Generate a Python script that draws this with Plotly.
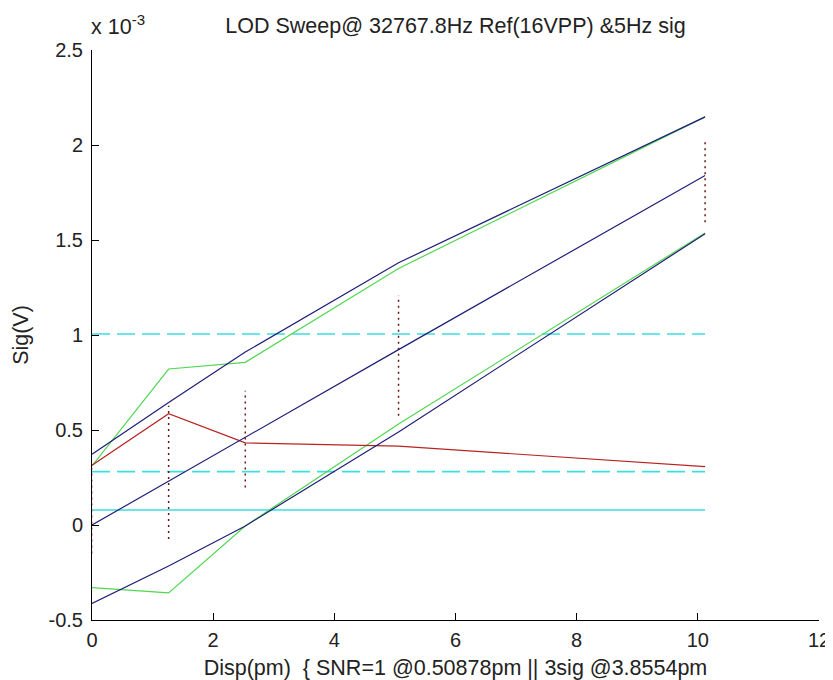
import plotly.graph_objects as go

# ---- data (signal values in units of 1e-3 V) ----
disp_pm = [0.0, 1.265, 2.53, 5.06, 10.12]
sig_std = [0.315, 0.586, 0.432, 0.415, 0.307]          # red
green_upper = [0.311, 0.821, 0.856, 1.350, 2.148]
green_lower = [-0.330, -0.357, -0.005, 0.531, 1.537]
fit_mid = [0.0, 0.231, 0.462, 0.923, 1.840]            # blue centre
fit_upper = [0.373, 0.645, 0.910, 1.380, 2.148]
fit_lower = [-0.413, -0.216, -0.005, 0.490, 1.533]
sample_max = [0.300, 0.628, 0.707, 1.208, 2.036]       # dotted sample spread
sample_min = [-0.150, -0.074, 0.197, 0.575, 1.594]
level_solid = 0.079
level_dashed = [0.281, 1.005]

x_ticks = [0, 2, 4, 6, 8, 10, 12]
y_ticks = [-0.5, 0, 0.5, 1, 1.5, 2, 2.5]
y_tick_text = ["-0.5", "0", "0.5", "1", "1.5", "2", "2.5"]

title_text = "LOD Sweep@ 32767.8Hz Ref(16VPP) &5Hz sig"
x_title = "Disp(pm)\u00a0 { SNR=1 @0.50878pm || 3sig @3.8554pm"
y_title = "Sig(V)"

FONT = "Liberation Sans, Arial, sans-serif"
FS_TICK = 20
FS_TXT = 21.5
TXT = "#222"
CYAN = "rgb(60,222,222)"
GREEN = "rgb(80,215,80)"
RED = "rgb(185,35,35)"
NAVY = "rgb(30,30,120)"
DOTS = "rgb(110,20,20)"

# page body has an 8px default margin, so the figure is sized to fit the window
W, H = 825, 672

fig = go.Figure()
x_span = [disp_pm[0], disp_pm[-1]]

fig.add_trace(go.Scatter(x=x_span, y=[level_solid] * 2, mode="lines",
                         line=dict(color=CYAN, width=1.6)))
for lv in level_dashed:
    fig.add_trace(go.Scatter(x=x_span, y=[lv] * 2, mode="lines",
                             line=dict(color=CYAN, width=1.6, dash="18px,7px")))

fig.add_trace(go.Scatter(x=disp_pm, y=green_upper, mode="lines", line=dict(color=GREEN, width=1.2)))
fig.add_trace(go.Scatter(x=disp_pm, y=green_lower, mode="lines", line=dict(color=GREEN, width=1.2)))
fig.add_trace(go.Scatter(x=disp_pm, y=sig_std, mode="lines", line=dict(color=RED, width=1.2)))

for i, xv in enumerate(disp_pm):
    col = "rgb(230,120,130)" if i == 0 else DOTS
    fig.add_trace(go.Scatter(x=[xv, xv], y=[sample_min[i], sample_max[i]], mode="lines",
                             line=dict(color=col, width=1.5, dash="2px,4px")))

for ys in (fit_upper, fit_mid, fit_lower):
    fig.add_trace(go.Scatter(x=disp_pm, y=ys, mode="lines", line=dict(color=NAVY, width=1.2)))

axis_common = dict(showline=True, linecolor="black", linewidth=1, ticks="inside",
                   ticklen=7, tickcolor="black", tickwidth=1, showgrid=False,
                   zeroline=False, mirror=False, automargin=False,
                   tickfont=dict(family=FONT, size=FS_TICK, color=TXT))

fig.update_xaxes(range=[0, 12], tickvals=x_ticks, ticklabelstandoff=2,
                 title=dict(text=x_title, font=dict(family=FONT, size=FS_TXT, color=TXT), standoff=9),
                 **axis_common)
fig.update_yaxes(range=[-0.5, 2.5], tickvals=y_ticks, ticktext=y_tick_text, ticklabelstandoff=4,
                 title=dict(text=y_title, font=dict(family=FONT, size=FS_TXT, color=TXT), standoff=14),
                 **axis_common)

fig.update_layout(
    width=W, height=H,
    margin=dict(l=84, r=14, t=42, b=60),
    paper_bgcolor="white", plot_bgcolor="white",
    showlegend=False,
    title=dict(text=title_text, x=0.5, xref="paper", y=1 - 17 / H, yref="container",
               xanchor="center", yanchor="middle",
               font=dict(family=FONT, size=FS_TXT, color=TXT)),
    annotations=[dict(text="x 10<sup>-3</sup>", x=0, xref="paper", y=1, yref="paper",
                      xanchor="left", yanchor="bottom", showarrow=False, yshift=9, xshift=-3,
                      font=dict(family=FONT, size=FS_TXT, color=TXT))],
)

fig.write_html("out.html")
